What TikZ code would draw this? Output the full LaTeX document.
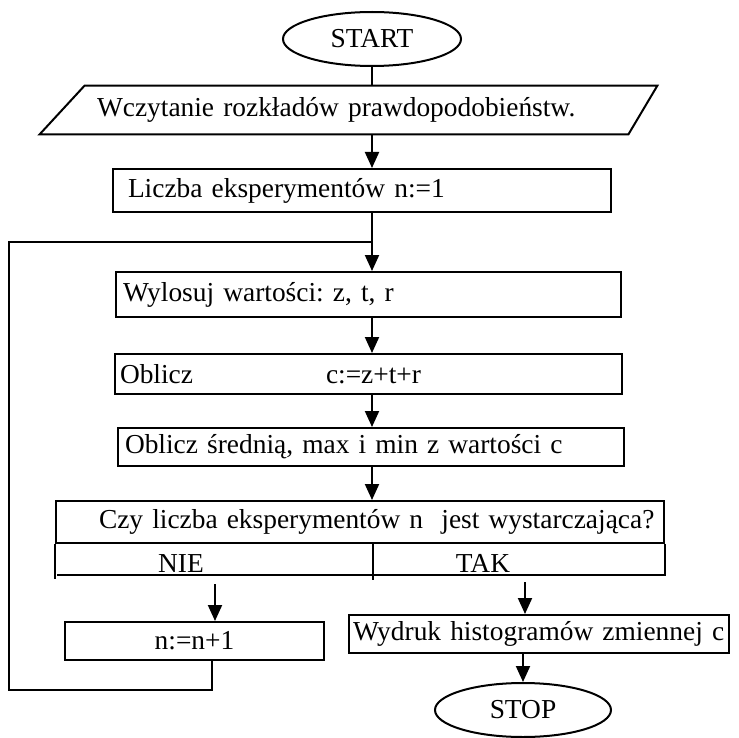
\documentclass[tikz,border=0pt]{standalone}
\usepackage{fontspec}
\setmainfont{Liberation Serif}
\usepackage{tikz}
\usetikzlibrary{
    shapes.geometric,
    arrows.meta,
    calc,
    positioning
}
\tikzset{
    blok/.style={draw, line width=1pt, rectangle, align=left, inner ysep=0pt},
    kraniec/.style={draw, line width=1pt, ellipse, inner sep=0pt},
    strzalka/.style={line width=1pt, -{Triangle[length=8pt, width=7pt]}},
    linia/.style={line width=1pt}
}

\begin{document}
\begin{tikzpicture}[x=0.5pt, y=-0.5pt, font=\fontsize{13.7}{16}\selectfont\frenchspacing]
                                \useasboundingbox (0,0) rectangle (739,738);
                                \coordinate (os) at (372,0);
                                \coordinate (dziel) at (373,0);
                                \coordinate (wyjnie) at (215,584);
                                \coordinate (wyjtak) at (525,582);
                                \coordinate (powrot) at (212,690);
                                \coordinate (lewo) at (9,690);
                                \coordinate (petla) at (372,242);
                                \node[kraniec, minimum width=89pt, minimum height=27pt] (start) at (372, 39) {START};
                                \node[align=left, inner ysep=0pt, minimum width=290pt, minimum height=24pt, inner xsep=17.25pt, text width=255.5pt] (wczyt) at (352.5, 110) {Wczytanie rozkładów prawdopodobieństw.};
                                \node[blok, minimum width=249pt, minimum height=21.5pt, inner xsep=7.5pt, text width=234pt] (liczba) at (362, 190.5) {Liczba eksperymentów n:=1};
                                \node[blok, minimum width=252.5pt, minimum height=22.5pt, inner xsep=3.5pt, text width=245.5pt] (wylosuj) at (368.5, 294.5) {Wylosuj wartości: z, t, r};
                                \node[blok, minimum width=253.5pt, minimum height=20pt, inner xsep=2.5pt, text width=248.5pt] (oblicz) at (368.5, 374) {\makebox[103pt][l]{Oblicz}c:=z+t+r};
                                \node[blok, minimum width=253pt, minimum height=19pt, inner xsep=3.5pt, text width=246pt] (srednia) at (371, 447) {Oblicz średnią, max i min z wartości c};
                                \node[blok, minimum width=304pt, minimum height=21pt, inner xsep=21.5pt, text width=261pt] (czy) at (360, 522) {\mbox{Czy liczba eksperymentów n\ \ jest wystarczająca?}};
                                \node[anchor=base, inner sep=0pt] (nie) at (181, 572) {NIE};
                                \node[anchor=base, inner sep=0pt] (tak) at (483, 572) {TAK};
                                \node[blok, align=center, minimum width=129.5pt, minimum height=19pt] (plus) at (194.5, 641) {n:=n+1};
                                \node[blok, minimum width=190pt, minimum height=19pt, inner xsep=2pt, text width=186pt] (wydruk) at (539, 634) {\mbox{Wydruk histogramów zmiennej c}};
                                \node[kraniec, minimum width=88pt, minimum height=27pt] (stop) at (523, 710) {STOP};
                                \draw[linia] ([xshift=-11.25pt]wczyt.south west) -- ([xshift=11.25pt]wczyt.north west) -- ([xshift=7.25pt]wczyt.north east) -- ([xshift=-7.25pt]wczyt.south east) -- cycle;
                                \draw[linia] (czy.south west) -- ++(0,35);
                                \draw[linia] (czy.south east) -- ++(0,31) -- ++(-608,0);
                                \draw[linia] (czy.south -| dziel) -- ++(0,36);
                                \draw[linia] (start.south) -- (start.south |- wczyt.north);
                                \draw[strzalka] (wczyt.south -| os) -- (liczba.north -| os);
                                \draw[strzalka] (liczba.south -| os) -- (wylosuj.north -| os);
                                \draw[strzalka] (wylosuj.south -| os) -- (oblicz.north -| os);
                                \draw[strzalka] (oblicz.south -| os) -- (srednia.north -| os);
                                \draw[strzalka] (srednia.south -| os) -- (czy.north -| os);
                                \draw[strzalka] (wyjnie) -- (wyjnie |- plus.north);
                                \draw[strzalka] (wyjtak) -- (wyjtak |- wydruk.north);
                                \draw[strzalka] (stop.north |- wydruk.south) -- (stop.north);
                                \draw[linia] (plus.south -| powrot) -- (powrot) -- (lewo) |- (petla);
                            \end{tikzpicture}
\end{document}
